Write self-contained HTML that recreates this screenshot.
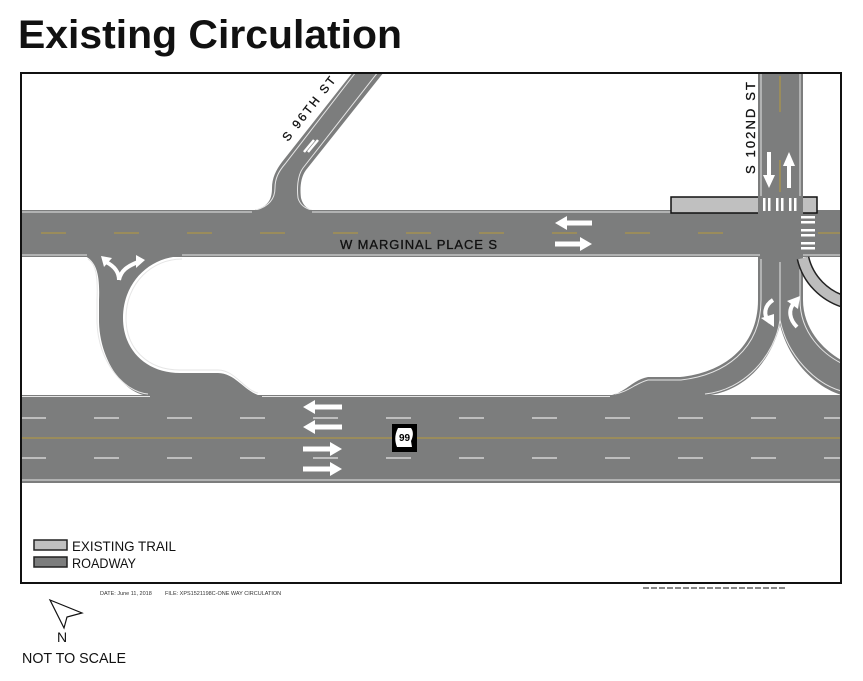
<!DOCTYPE html>
<html><head><meta charset="utf-8"><style>
body{margin:0;background:#fff;width:863px;height:681px;overflow:hidden}
svg{display:block}
</style></head><body>
<svg width="863" height="681" viewBox="0 0 863 681" xmlns="http://www.w3.org/2000/svg" font-family="Liberation Sans, sans-serif">
<text x="18" y="48" font-size="40" font-weight="bold" fill="#111" textLength="384" lengthAdjust="spacingAndGlyphs">Existing Circulation</text>
<defs>
<clipPath id="fr"><rect x="21" y="73" width="820" height="510"/></clipPath>
</defs>
<g clip-path="url(#fr)">
<path d="M250,211 C268,208 272,200 272,188 C272,178 276,170 282,162 L353,72 L384,72 L306,170 C300,178 300,190 301,198 C303,206 308,210 316,211 Z" fill="#7c7d7d"/>
<path d="M256,210 C270,206 275,198 275,188 C275,178 279,171 285,164 L356,72" fill="none" stroke="#e6e6e6" stroke-width="1"/>
<path d="M378,72 L303,168 C297,176 297,190 298,198 C300,205 305,208 311,210" fill="none" stroke="#e6e6e6" stroke-width="1"/>
<rect x="21" y="210" width="820" height="47" fill="#7c7d7d"/>
<rect x="758" y="72" width="45" height="190" fill="#7c7d7d"/>
<line x1="761" y1="72" x2="761" y2="197" stroke="#e6e6e6"/>
<line x1="800" y1="72" x2="800" y2="197" stroke="#e6e6e6"/>
<line x1="780" y1="76" x2="780" y2="112" stroke="#b89a3a" stroke-width="1"/>
<line x1="780" y1="160" x2="780" y2="192" stroke="#b89a3a" stroke-width="1"/>
<path d="M85,256 C97,262 100,276 99,300 L99,322 C100,362 125,395 150,396 L262,396 C245,393 236,373 218,373 L180,373 C146,373 123,350 123,318 C123,282 150,256 184,256 Z" fill="#7c7d7d"/>
<path d="M88,259 C96,264 98,276 97,300 L97,322 C98,362 124,392 148,394" fill="none" stroke="#e6e6e6"/>
<path d="M182,259 C152,259 126,283 126,318 C126,348 147,370 180,370 L218,370 C235,370 244,390 258,393" fill="none" stroke="#e6e6e6"/>
<path d="M758,256 L758,300 C758,348 722,373 680,377 L648,377 C632,380 626,393 608,396 L700,396 C740,395 770,365 780,325 C790,365 820,390 845,396 L845,362 C825,352 803,330 803,300 L803,256 Z" fill="#7c7d7d"/>
<path d="M761,259 L761,300 C761,350 724,375 681,380 L648,380 C636,383 628,392 615,394" fill="none" stroke="#e6e6e6"/>
<path d="M800,259 L800,300 C800,333 823,355 845,365" fill="none" stroke="#e6e6e6"/>
<path d="M780,262 L780,320 C775,355 745,390 705,394 M780,320 C787,355 815,385 845,392" fill="none" stroke="#e6e6e6"/>
<path d="M803,258 C808,280 825,296 845,302" fill="none" stroke="#222" stroke-width="13"/>
<path d="M803,258 C808,280 825,296 845,302" fill="none" stroke="#bdbdbd" stroke-width="10"/>
<rect x="21" y="395" width="820" height="88" fill="#7c7d7d"/>
<line x1="21" y1="396.5" x2="150" y2="396.5" stroke="#e6e6e6"/>
<line x1="262" y1="396.5" x2="610" y2="396.5" stroke="#e6e6e6"/>
<line x1="21" y1="480" x2="841" y2="480" stroke="#e6e6e6"/>
<line x1="21" y1="438" x2="841" y2="438" stroke="#b89a3a" stroke-width="1"/>
<line x1="21" y1="418" x2="841" y2="418" stroke="#e6e6e6" stroke-width="1.3" stroke-dasharray="25,48"/>
<line x1="21" y1="458" x2="841" y2="458" stroke="#e6e6e6" stroke-width="1.3" stroke-dasharray="25,48"/>
<line x1="21" y1="212" x2="252" y2="212" stroke="#e6e6e6"/>
<line x1="312" y1="212" x2="671" y2="212" stroke="#e6e6e6"/>
<line x1="21" y1="255" x2="87" y2="255" stroke="#e6e6e6"/>
<line x1="182" y1="255" x2="760" y2="255" stroke="#e6e6e6"/>
<line x1="803" y1="255" x2="841" y2="255" stroke="#e6e6e6"/>
<line x1="21" y1="233" x2="758" y2="233" stroke="#b89a3a" stroke-width="1" stroke-dasharray="25,48" stroke-dashoffset="-20"/>
<line x1="818" y1="233" x2="841" y2="233" stroke="#b89a3a" stroke-width="1"/>
<rect x="671" y="197" width="146" height="16" fill="#c0c0c0" stroke="#111" stroke-width="1.5"/>
<rect x="758" y="196" width="45" height="18" fill="#7c7d7d"/>
<g fill="#fff">
<rect x="763" y="198" width="2.5" height="13"/><rect x="768" y="198" width="2.5" height="13"/>
<rect x="776" y="198" width="2.5" height="13"/><rect x="781" y="198" width="2.5" height="13"/>
<rect x="789" y="198" width="2.5" height="13"/><rect x="794" y="198" width="2.5" height="13"/>
<rect x="801" y="216" width="14" height="2.5"/><rect x="801" y="221" width="14" height="2.5"/>
<rect x="801" y="229" width="14" height="2.5"/><rect x="801" y="234" width="14" height="2.5"/>
<rect x="801" y="242" width="14" height="2.5"/><rect x="801" y="247" width="14" height="2.5"/>
</g>
<path d="M767,152 L771,152 L771,175 L775,175 L769,188 L763,175 L767,175 Z" fill="#fff"/>
<path d="M787,188 L791,188 L791,166 L795,166 L789,152 L783,166 L787,166 Z" fill="#fff"/>
<path d="M555,223 L567,216 L567,220.5 L592,220.5 L592,225.5 L567,225.5 L567,230 Z" fill="#fff"/>
<path d="M592,244 L580,237 L580,241.5 L555,241.5 L555,246.5 L580,246.5 L580,251 Z" fill="#fff"/>
<path d="M303,407 L315,400 L315,404.5 L342,404.5 L342,409.5 L315,409.5 L315,414 Z" fill="#fff"/>
<path d="M303,427 L315,420 L315,424.5 L342,424.5 L342,429.5 L315,429.5 L315,434 Z" fill="#fff"/>
<path d="M342,449 L330,442 L330,446.5 L303,446.5 L303,451.5 L330,451.5 L330,456 Z" fill="#fff"/>
<path d="M342,469 L330,462 L330,466.5 L303,466.5 L303,471.5 L330,471.5 L330,476 Z" fill="#fff"/>
<path d="M119,280 C119,270 112,265 106,262 M119,280 C121,270 128,266 138,262" fill="none" stroke="#fff" stroke-width="4"/>
<path d="M101,256 L112,258 L104,267 Z M145,260 L136,255 L136,268 Z" fill="#fff"/>
<path d="M773,300 C765,305 762,315 770,322" fill="none" stroke="#fff" stroke-width="4"/>
<path d="M761,318 L774,327 L774,314 Z" fill="#fff"/>
<path d="M797,327 C790,320 787,310 795,302" fill="none" stroke="#fff" stroke-width="4"/>
<path d="M787,301 L800,296 L798,309 Z" fill="#fff"/>
<path d="M304,152 L314,140 M318,140 L308,152" stroke="#fff" stroke-width="2.5"/>
<rect x="392" y="424" width="25" height="28" fill="#000"/>
<path d="M398,428 L411,428 C414,432 413,437 411,441 L412,447 L397,447 C395,442 394,436 398,428 Z" fill="#fff"/>
<text x="404.5" y="441" font-size="10" font-weight="bold" text-anchor="middle" fill="#000">99</text>
<text x="340" y="249" font-size="13" fill="#111" stroke="#111" stroke-width="0.3" textLength="157" lengthAdjust="spacing">W MARGINAL PLACE S</text>
<text transform="translate(755,174) rotate(-90)" font-size="13" fill="#111" stroke="#111" stroke-width="0.3" textLength="92" lengthAdjust="spacing">S 102ND ST</text>
<text transform="translate(288,142) rotate(-52)" font-size="12" fill="#111" stroke="#111" stroke-width="0.3" textLength="78" lengthAdjust="spacing">S 96TH ST</text>
<rect x="34" y="540" width="33" height="10" fill="#c0c0c0" stroke="#222" stroke-width="1.5"/>
<rect x="34" y="557" width="33" height="10" fill="#7c7d7d" stroke="#222" stroke-width="1.5"/>
<text x="72" y="551" font-size="14" fill="#111" textLength="104" lengthAdjust="spacingAndGlyphs">EXISTING TRAIL</text>
<text x="72" y="568" font-size="14" fill="#111" textLength="64" lengthAdjust="spacingAndGlyphs">ROADWAY</text>
</g>
<rect x="21" y="73" width="820" height="510" fill="none" stroke="#111" stroke-width="2"/>
<text x="100" y="595" font-size="5.5" fill="#333">DATE: June 11, 2018</text>
<text x="165" y="595" font-size="5.5" fill="#333">FILE: XPS1521198C-ONE WAY CIRCULATION</text>
<path d="M643,588 L785,588" stroke="#888" stroke-width="2" stroke-dasharray="6,2"/>
<path d="M50,600 L82,613 L67,617 L64,628 Z" fill="#fff" stroke="#111" stroke-width="1.2"/>
<text x="57" y="642" font-size="14" fill="#111">N</text>
<text x="22" y="663" font-size="15" fill="#111" textLength="104" lengthAdjust="spacingAndGlyphs">NOT TO SCALE</text>
</svg>
</body></html>
